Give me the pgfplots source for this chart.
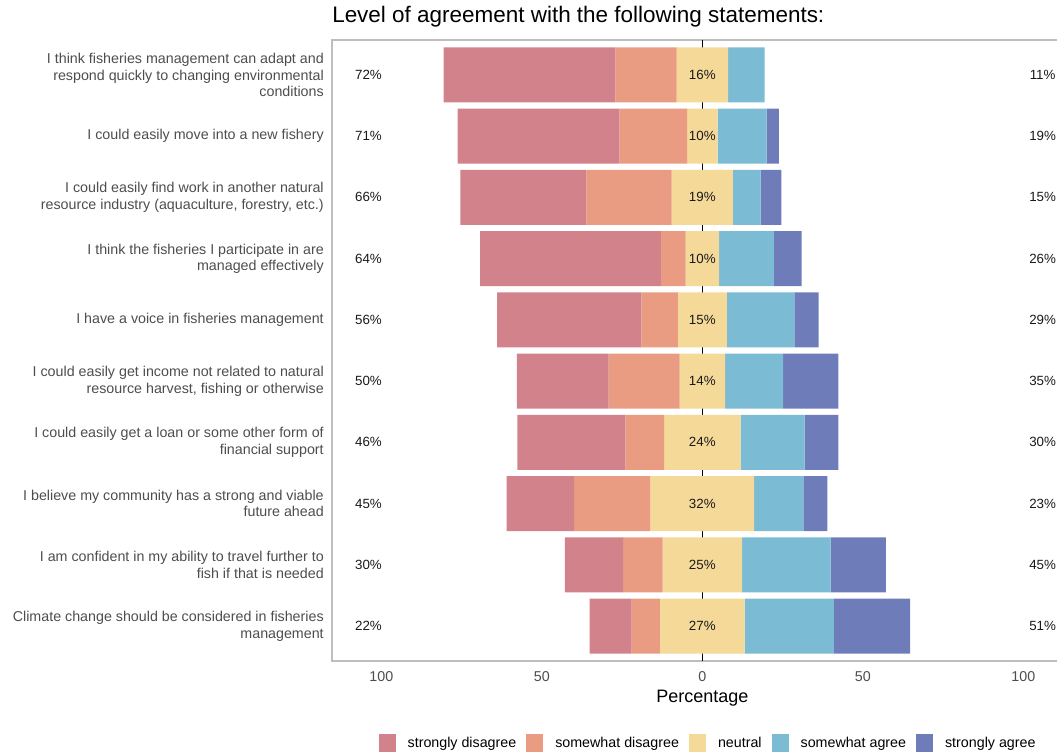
\documentclass[border=0pt]{standalone}
\usepackage{pgfplots}
\pgfplotsset{compat=1.18}
\usepackage{pgfplotstable}
\usepackage{fontspec}
\setmainfont{Liberation Sans}

\definecolor{sdis}{HTML}{D2828A}
\definecolor{swdis}{HTML}{E99C81}
\definecolor{neut}{HTML}{F5D999}
\definecolor{swag}{HTML}{7BBBD4}
\definecolor{sag}{HTML}{6E7DB9}
\definecolor{framegray}{HTML}{BEBEBE}
\definecolor{labgray}{HTML}{4D4D4D}

% x runs shifted by +120 so that zero agreement sits at 120 and
% everything stacks on positive values; off = where each bar starts
\pgfplotstableread{
y off sd swd neu swa sa
1 39.4 53.5 19.1 16.0 11.4 0
2 43.75 50.4 21.1 9.5 15.3 3.8
3 44.65 39.2 26.6 19.1 8.6 6.5
4 50.8 56.3 7.7 10.4 17.1 8.6
5 56.05 45.0 11.3 15.3 21.0 7.6
6 62.2 28.6 22.1 14.2 18.1 17.2
7 62.4 33.6 12.1 23.8 20.0 10.5
8 59.05 21.0 23.8 32.3 15.3 7.5
9 77.2 18.1 12.3 24.8 27.6 17.2
10 84.9 13.1 8.8 26.4 27.8 23.7
}\bars

\pgfplotstableread{
y lx cx rx lp cp rp
1 16 120 226 72 16 11
2 16 120 226 71 10 19
3 16 120 226 66 19 15
4 16 120 226 64 10 26
5 16 120 226 56 15 29
6 16 120 226 50 14 35
7 16 120 226 46 24 30
8 16 120 226 45 32 23
9 16 120 226 30 25 45
10 16 120 226 22 27 51
}\labels

\pgfplotsset{
  common/.style={
    scale only axis, width=545pt, height=465.75pt,
    at={(0,0)}, anchor=south west,
    xmin=4.64, xmax=231, ymin=0.43, ymax=10.57, y dir=reverse,
  },
  key/.style={legend image code/.code={\fill[##1,draw=none] (0pt,-6.4pt) rectangle (12.75pt,6.4pt);}},
}

\begin{document}
\begin{tikzpicture}
\useasboundingbox (-249pt,-68.25pt) rectangle (543.75pt,495.75pt);
\begin{axis}[common,
  xbar stacked, bar width=41.2pt,
  /pgf/number format/assume math mode=true,
  ytick={1,...,10},
  yticklabels={
    {I think fisheries management can adapt and\\respond quickly to changing environmental\\conditions},
    {I could easily move into a new fishery},
    {I could easily find work in another natural\\resource industry (aquaculture, forestry, etc.)},
    {I think the fisheries I participate in are\\managed effectively},
    {I have a voice in fisheries management},
    {I could easily get income not related to natural\\resource harvest, fishing or otherwise},
    {I could easily get a loan or some other form of\\financial support},
    {I believe my community has a strong and viable\\future ahead},
    {I am confident in my ability to travel further to\\fish if that is needed},
    {Climate change should be considered in fisheries\\management}},
  yticklabel style={align=right, text=labgray, inner sep=0pt, xshift=-6pt,
    font=\fontsize{10.7}{12.4}\selectfont},
  xtick={20,70,120,170,220}, xticklabels={100,50,0,50,100},
  xticklabel style={text=labgray, inner sep=0pt, yshift=-7.5pt,
    font=\fontsize{10.7}{12.4}\selectfont},
  major tick length=0pt,
  extra x ticks={120}, extra x tick labels={},
  extra x tick style={grid=major, major grid style={black, line width=0.8pt}},
  axis line style={draw=framegray, line width=1.1pt},
  title={Level of agreement with the following statements:},
  title style={at={(0,1)}, anchor=base west, inner sep=0pt, yshift=6.75pt,
    font=\fontsize{16.85}{19}\selectfont},
  xlabel={Percentage},
  xlabel style={at={(axis description cs:0.5096,0)}, anchor=base, inner sep=0pt,
    yshift=-30.75pt, font=\fontsize{13.5}{16}\selectfont},
]
\addplot[draw=none, fill=none] table[x=off, y=y] {\bars};
\addplot[fill=sdis, draw=none] table[x=sd, y=y] {\bars};
\addplot[fill=swdis, draw=none] table[x=swd, y=y] {\bars};
\addplot[fill=neut, draw=none] table[x=neu, y=y] {\bars};
\addplot[fill=swag, draw=none] table[x=swa, y=y] {\bars};
\addplot[fill=sag, draw=none] table[x=sa, y=y] {\bars};
\end{axis}

\begin{axis}[common, hide axis,
  every node near coord/.append style={anchor=center, inner sep=0pt,
    text=black!90, font=\fontsize{10}{12}\selectfont},
  legend columns=5,
  legend style={draw=none, fill=none, at={(0.518,-0.132)}, anchor=center,
    font=\fontsize{10.7}{12.4}\selectfont,
    /tikz/every odd column/.append style={column sep=7pt},
    /tikz/every even column/.append style={column sep=5.5pt}},
]
\addlegendimage{key, fill=sdis}
\addlegendentry{strongly disagree}
\addlegendimage{key, fill=swdis}
\addlegendentry{somewhat disagree}
\addlegendimage{key, fill=neut}
\addlegendentry{neutral}
\addlegendimage{key, fill=swag}
\addlegendentry{somewhat agree}
\addlegendimage{key, fill=sag}
\addlegendentry{strongly agree}
\addplot[draw=none, mark=none, nodes near coords={\pgfplotspointmeta\%},
  point meta=explicit symbolic] table[x=lx, y=y, meta=lp] {\labels};
\addplot[draw=none, mark=none, nodes near coords={\pgfplotspointmeta\%},
  point meta=explicit symbolic] table[x=cx, y=y, meta=cp] {\labels};
\addplot[draw=none, mark=none, nodes near coords={\pgfplotspointmeta\%},
  point meta=explicit symbolic] table[x=rx, y=y, meta=rp] {\labels};
\end{axis}
\end{tikzpicture}
\end{document}
